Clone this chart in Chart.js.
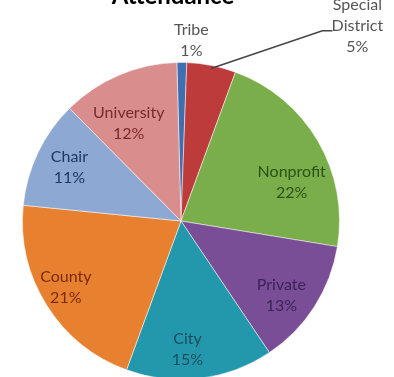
<!DOCTYPE html>
<html>
<head>
<meta charset="utf-8">
<script src="https://cdn.jsdelivr.net/npm/chart.js@4.4.1/dist/chart.umd.min.js"></script>
<style>
  html, body { margin: 0; padding: 0; background: #fff; overflow: hidden; }
  #wrap { position: relative; width: 394px; height: 400px; }
</style>
</head>
<body>
<div id="wrap"><canvas id="pie" width="394" height="400"></canvas></div>
<script>
const categories = ['Tribe', 'Special District', 'Nonprofit', 'Private', 'City', 'County', 'Chair', 'University'];
const percents = [1, 5, 22, 13, 15, 21, 11, 12];
const sliceColors = ['#3f6fb0', '#be3b3b', '#79ae4a', '#7a4e96', '#2398ad', '#e8812f', '#8ea8d4', '#d98d8d'];
const labelColors = ['#555555', '#555555', '#2d5117', '#3a2458', '#1c4d5e', '#7a2a0c', '#1f3763', '#7a2a2a'];

// where each label sits: fraction of radius, extra angle (deg), outside or not
const labelPlace = [
  { r: 1.14, shift: 3, outside: true },
  { r: 1.66, shift: 31, outside: true, leader: true },
  { r: 0.74, shift: 11 },
  { r: 0.79, shift: 4 },
  { r: 0.81, shift: 4 },
  { r: 0.84, shift: 2 },
  { r: 0.78, shift: 0 },
  { r: 0.70, shift: -5 }
];

const sliceLabels = {
  id: 'sliceLabels',
  afterDatasetsDraw(chart) {
    const ctx = chart.ctx;
    const arcs = chart.getDatasetMeta(0).data;
    ctx.save();
    ctx.font = '16px Lato';
    ctx.textAlign = 'center';
    ctx.textBaseline = 'middle';
    arcs.forEach((arc, i) => {
      const p = arc.getProps(['x', 'y', 'startAngle', 'endAngle', 'outerRadius'], true);
      const mid = (p.startAngle + p.endAngle) / 2;
      const place = labelPlace[i];
      const a = mid + place.shift * Math.PI / 180;
      const lx = p.x + Math.cos(a) * p.outerRadius * place.r;
      const ly = p.y + Math.sin(a) * p.outerRadius * place.r;
      const lines = categories[i].split(' ');
      lines.push(percents[i] + '%');
      const lh = 21;
      const top = ly - (lines.length - 1) * lh / 2;
      ctx.fillStyle = labelColors[i];
      lines.forEach((t, k) => ctx.fillText(t, lx, top + k * lh));
      if (place.leader) {
        const ex = p.x + Math.cos(mid) * p.outerRadius * 0.98;
        const ey = p.y + Math.sin(mid) * p.outerRadius * 0.98;
        ctx.strokeStyle = '#444';
        ctx.lineWidth = 1.5;
        ctx.beginPath();
        ctx.moveTo(ex, ey);
        ctx.lineTo(lx - 35, top + lh + 5);
        ctx.lineTo(lx - 25, top + lh + 5);
        ctx.stroke();
      }
    });
    // title, partly above the top edge
    ctx.fillStyle = '#000';
    ctx.font = 'bold 24px Lato';
    ctx.textBaseline = 'alphabetic';
    ctx.fillText('Attendance', 173, 4);
    ctx.restore();
  }
};

new Chart(document.getElementById('pie'), {
  type: 'pie',
  data: {
    labels: categories,
    datasets: [{
      data: percents,
      backgroundColor: sliceColors,
      borderColor: 'rgba(255,255,255,0.5)',
      borderWidth: 1
    }]
  },
  options: {
    responsive: false,
    animation: false,
    rotation: -1.5,
    layout: { padding: { left: 22, right: 54, top: 62, bottom: 20 } },
    plugins: {
      legend: { display: false },
      tooltip: { enabled: false }
    }
  },
  plugins: [sliceLabels]
});
</script>
</body>
</html>
